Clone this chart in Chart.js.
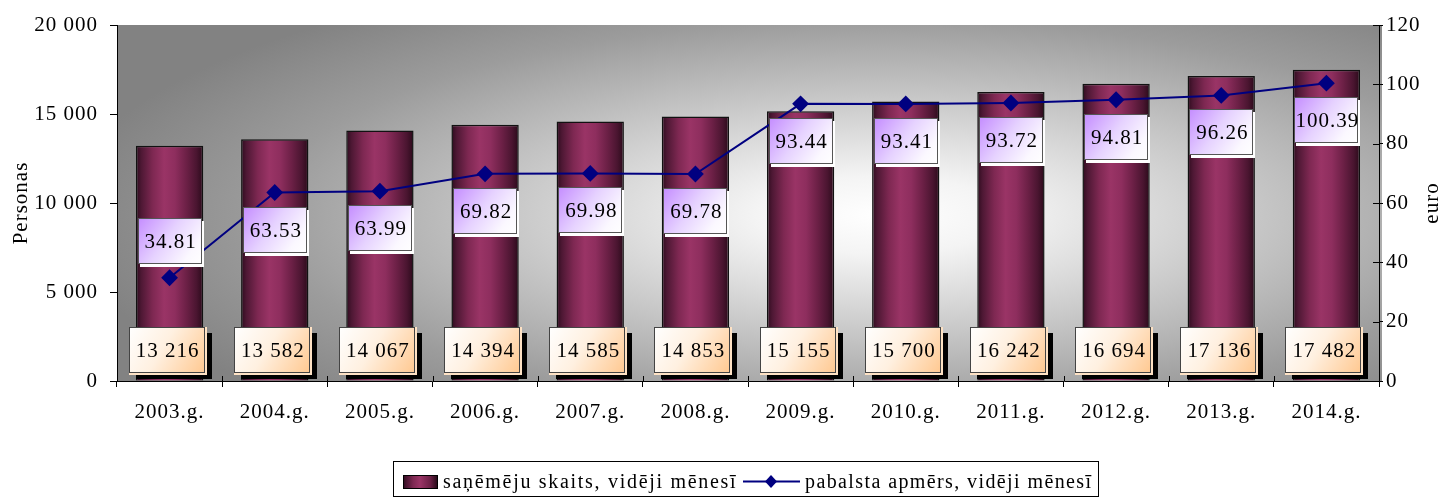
<!DOCTYPE html>
<html>
<head>
<meta charset="utf-8">
<script src="https://cdn.jsdelivr.net/npm/chart.js@4/dist/chart.umd.min.js"></script>
<style>
html,body{margin:0;padding:0;background:#fff;}
#wrap{width:1446px;height:497px;position:relative;}
</style>
</head>
<body>
<div id="wrap"><canvas id="c" width="1446" height="497"></canvas></div>
<script>
const categories = ['2003.g.','2004.g.','2005.g.','2006.g.','2007.g.','2008.g.','2009.g.','2010.g.','2011.g.','2012.g.','2013.g.','2014.g.'];
const recipients = [13216, 13582, 14067, 14394, 14585, 14853, 15155, 15700, 16242, 16694, 17136, 17482];
const benefit = [34.81, 63.53, 63.99, 69.82, 69.98, 69.78, 93.44, 93.41, 93.72, 94.81, 96.26, 100.39];
const seriesNames = ['saņēmēju skaits, vidēji mēnesī', 'pabalsta apmērs, vidēji mēnesī'];
const axisTitles = ['Personas', 'euro'];
const leftAxis = {min: 0, max: 20000, step: 5000};
const rightAxis = {min: 0, max: 120, step: 20};

const FONT = '"Liberation Serif", "Times New Roman", serif';
const FSIZE = 21;
const BAR_PCT = 0.64;

function fmtThousands(n){ return String(n).replace(/\B(?=(\d{3})+(?!\d))/g, ' '); }

function barGradient(ctx){
  const chart = ctx.chart;
  const xs = chart.scales.x;
  if (!chart.chartArea || !xs) return '#8a2a58';
  const cx = xs.getPixelForValue(ctx.dataIndex);
  const w = (xs.width / categories.length) * BAR_PCT;
  const g = chart.ctx.createLinearGradient(cx - w/2, 0, cx + w/2, 0);
  g.addColorStop(0, '#2e0b1e');
  g.addColorStop(0.08, '#4e1834');
  g.addColorStop(0.25, '#7e2852');
  g.addColorStop(0.42, '#9a3466');
  g.addColorStop(0.58, '#8e2e5e');
  g.addColorStop(0.75, '#6c2046');
  g.addColorStop(0.9, '#4a1530');
  g.addColorStop(1, '#2a0a1a');
  return g;
}

const bgPlugin = {
  id: 'bg',
  beforeDraw(chart){
    const {ctx, chartArea: a} = chart;
    ctx.letterSpacing = '1px';
    ctx.save();
    const cx = 880, cy = 215, rx = 820, ry = 260;
    ctx.beginPath();
    ctx.rect(a.left, a.top, a.right - a.left + 3, a.bottom - a.top);
    ctx.clip();
    ctx.translate(cx, cy);
    ctx.scale(1, ry / rx);
    const g = ctx.createRadialGradient(0, 0, 0, 0, 0, rx);
    g.addColorStop(0, '#ffffff');
    g.addColorStop(0.15, '#f4f4f4');
    g.addColorStop(0.45, '#c8c8c8');
    g.addColorStop(0.75, '#9c9c9c');
    g.addColorStop(1, '#828282');
    ctx.fillStyle = g;
    ctx.fillRect(-rx * 2, -rx * 2, rx * 4, rx * 4);
    ctx.restore();
  }
};

function drawText(ctx, txt, x, y){
  ctx.fillStyle = '#000';
  ctx.font = FSIZE + 'px ' + FONT;
  ctx.textAlign = 'center';
  ctx.textBaseline = 'middle';
  ctx.fillText(txt, x + 1, y + 1);
}

const labelPlugin = {
  id: 'labels',
  afterDatasetsDraw(chart){
    const ctx = chart.ctx;
    const y = chart.scales.y;
    const barMeta = chart.getDatasetMeta(0);
    const lineMeta = chart.getDatasetMeta(1);
    ctx.save();
    ctx.letterSpacing = '1px';
    barMeta.data.forEach((el, i) => {
      const w = 76, h = 46;
      const cx = el.x - 3;
      const x0 = Math.round(cx - w/2), y0 = Math.round(y.bottom - 8 - h);
      ctx.fillStyle = '#000';
      ctx.fillRect(x0 + 7, y0 + 6, w, h);
      ctx.fillStyle = '#ffe2c4';
      ctx.fillRect(x0, y0, w + 2, h + 2);
      const g = ctx.createLinearGradient(x0, y0, x0 + w, y0 + h);
      g.addColorStop(0, '#ffffff');
      g.addColorStop(0.45, '#fff0e0');
      g.addColorStop(1, '#ffc890');
      ctx.fillStyle = g;
      ctx.fillRect(x0, y0, w, h);
      ctx.strokeStyle = '#444';
      ctx.lineWidth = 1;
      ctx.strokeRect(x0 + 0.5, y0 + 0.5, w - 1, h - 1);
      drawText(ctx, fmtThousands(recipients[i]), cx, y0 + h/2);
    });
    lineMeta.data.forEach((el, i) => {
      const w = 64, h = 46;
      const cy = i === 0 ? el.y - 37 : el.y + 37;
      const x0 = Math.round(el.x - w/2), y0 = Math.round(cy - h/2);
      ctx.fillStyle = '#ffffff';
      ctx.fillRect(x0 + 2, y0 + 3, w, h);
      const g = ctx.createLinearGradient(x0, y0, x0 + w, y0 + h);
      g.addColorStop(0, '#c48cff');
      g.addColorStop(0.45, '#e6d2ff');
      g.addColorStop(0.8, '#fbf8ff');
      g.addColorStop(1, '#ffffff');
      ctx.fillStyle = g;
      ctx.fillRect(x0, y0, w, h);
      ctx.strokeStyle = '#555';
      ctx.lineWidth = 1;
      ctx.strokeRect(x0 + 0.5, y0 + 0.5, w - 1, h - 1);
      drawText(ctx, benefit[i].toFixed(2), el.x, y0 + h/2);
    });
    ctx.restore();
  },
  afterDraw(chart){
    const ctx = chart.ctx;
    const a = chart.chartArea;
    const midY = (a.top + a.bottom) / 2;
    ctx.save();
    ctx.letterSpacing = '1px';
    ctx.fillStyle = '#000';
    ctx.font = FSIZE + 'px ' + FONT;
    ctx.textAlign = 'center';
    ctx.textBaseline = 'alphabetic';
    ctx.save();
    ctx.translate(27, midY);
    ctx.rotate(-Math.PI / 2);
    ctx.fillText(axisTitles[0], 0, 0);
    ctx.restore();
    ctx.save();
    ctx.translate(1438, midY);
    ctx.rotate(-Math.PI / 2);
    ctx.fillText(axisTitles[1], 0, 0);
    ctx.restore();
    const y1 = chart.scales.y1;
    ctx.strokeStyle = '#000';
    ctx.lineWidth = 1;
    for (let v = rightAxis.min; v <= rightAxis.max; v += rightAxis.step){
      const py = Math.round(y1.getPixelForValue(v)) + 0.5;
      ctx.beginPath();
      ctx.moveTo(a.right - 6, py);
      ctx.lineTo(a.right, py);
      ctx.stroke();
    }
    const xs = chart.scales.x;
    const cw = xs.width / categories.length;
    for (let i = 0; i <= categories.length; i++){
      const px = Math.round(xs.left + i * cw) + 0.5;
      ctx.beginPath();
      ctx.moveTo(px, a.bottom - 5);
      ctx.lineTo(px, a.bottom);
      ctx.stroke();
    }
    // legend
    const lx = 393, ly = 461, lw = 705, lh = 35;
    ctx.fillStyle = '#fff';
    ctx.fillRect(lx, ly, lw, lh);
    ctx.strokeStyle = '#000';
    ctx.strokeRect(lx + 0.5, ly + 0.5, lw, lh);
    const sx = 403, sy = 475, sw = 34, sh = 13;
    const sg = ctx.createLinearGradient(sx, 0, sx + sw, 0);
    sg.addColorStop(0, '#2e0b1e');
    sg.addColorStop(0.3, '#7e2852');
    sg.addColorStop(0.5, '#9a3466');
    sg.addColorStop(0.8, '#6c2046');
    sg.addColorStop(1, '#2a0a1a');
    ctx.fillStyle = sg;
    ctx.fillRect(sx, sy, sw, sh);
    ctx.strokeStyle = '#000';
    ctx.strokeRect(sx + 0.5, sy + 0.5, sw, sh);
    ctx.font = '20px ' + FONT;
    ctx.fillStyle = '#000';
    ctx.textAlign = 'left';
    ctx.textBaseline = 'alphabetic';
    ctx.letterSpacing = '1.7px';
    ctx.fillText(seriesNames[0], 443, 488);
    ctx.strokeStyle = '#000080';
    ctx.lineWidth = 2;
    ctx.beginPath();
    ctx.moveTo(743, 481.5);
    ctx.lineTo(800, 481.5);
    ctx.stroke();
    ctx.fillStyle = '#000080';
    ctx.beginPath();
    ctx.moveTo(771, 475); ctx.lineTo(777, 481.5); ctx.lineTo(771, 488); ctx.lineTo(765, 481.5);
    ctx.closePath();
    ctx.fill();
    ctx.fillStyle = '#000';
    ctx.letterSpacing = '1.4px';
    ctx.fillText(seriesNames[1], 805, 488);
    ctx.restore();
  }
};

new Chart(document.getElementById('c'), {
  data: {
    labels: categories,
    datasets: [
      {
        type: 'bar',
        label: seriesNames[0],
        data: recipients,
        yAxisID: 'y',
        backgroundColor: barGradient,
        borderColor: '#111',
        borderWidth: 1.5,
        barPercentage: BAR_PCT,
        categoryPercentage: 1,
        order: 2
      },
      {
        type: 'line',
        label: seriesNames[1],
        data: benefit,
        yAxisID: 'y1',
        borderColor: '#000080',
        backgroundColor: '#000080',
        borderWidth: 2,
        pointStyle: 'rectRot',
        pointRadius: 7,
        pointBackgroundColor: '#000080',
        pointBorderColor: '#000080',
        tension: 0,
        order: 1
      }
    ]
  },
  options: {
    responsive: false,
    animation: false,
    devicePixelRatio: 1,
    layout: { padding: { top: 25, left: 0, right: 0, bottom: 71 } },
    plugins: { legend: { display: false }, tooltip: { enabled: false } },
    scales: {
      x: {
        offset: true,
        grid: { offset: true, drawOnChartArea: false, drawTicks: true, tickLength: 6, color: '#000' },
        border: { color: '#000', width: 1 },
        ticks: { color: '#000', font: { family: FONT, size: FSIZE }, padding: 13, maxRotation: 0 },
        afterFit(s){ s.height = 45; }
      },
      y: {
        position: 'left',
        min: leftAxis.min, max: leftAxis.max,
        grid: { drawOnChartArea: false, drawTicks: true, tickLength: 7, color: '#000' },
        border: { color: '#000', width: 1 },
        ticks: { stepSize: leftAxis.step, color: '#000', font: { family: FONT, size: FSIZE }, padding: 12, callback: v => fmtThousands(v) },
        afterFit(s){ s.width = 117; }
      },
      y1: {
        position: 'right',
        min: rightAxis.min, max: rightAxis.max,
        grid: { drawOnChartArea: false, drawTicks: true, tickLength: 4, color: '#000' },
        border: { color: '#000', width: 1 },
        ticks: { stepSize: rightAxis.step, color: '#000', font: { family: FONT, size: FSIZE }, padding: 3 },
        afterFit(s){ s.width = 67; }
      }
    }
  },
  plugins: [bgPlugin, labelPlugin]
});
</script>
</body>
</html>
